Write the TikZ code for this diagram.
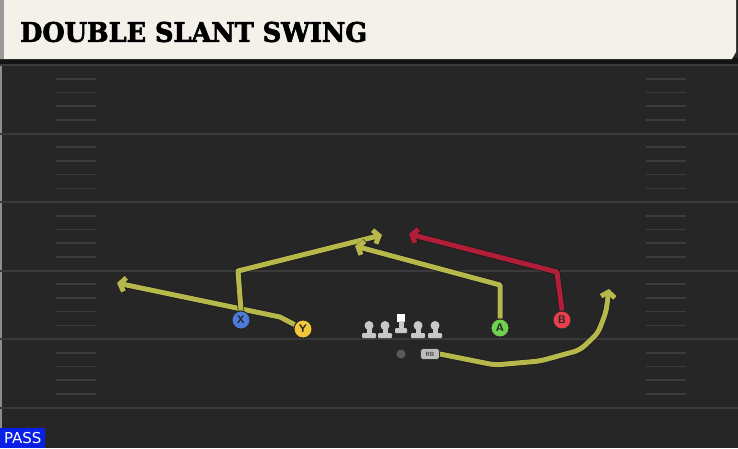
\documentclass[tikz,border=0pt]{standalone}
\usepackage{fontspec}
\setmainfont{DejaVu Sans}
\newfontfamily\titlefont[FakeBold=2.5]{DejaVu Serif Bold}
\usetikzlibrary{arrows.meta}
\definecolor{fieldbg}{HTML}{262626}
\definecolor{yardline}{HTML}{3A3A3A}
\definecolor{hashcol}{HTML}{3C3C3C}
\definecolor{banner}{HTML}{F3F1EA}
\definecolor{routey}{HTML}{B7B84C}
\definecolor{router}{HTML}{B01E3A}
\definecolor{xblue}{HTML}{4C7BDA}
\definecolor{yyellow}{HTML}{F2C83A}
\definecolor{agreen}{HTML}{6ED24E}
\definecolor{bred}{HTML}{E6404C}
\definecolor{linecol}{HTML}{C8C8C8}
\definecolor{passblue}{HTML}{0A1FE6}
\tikzset{
  yardln/.style={draw=yardline, line width=2pt},
  hashln/.style={draw=hashcol, line width=1.6pt},
  player/.style={circle, draw=black!85, line width=0.9pt, minimum size=18pt, inner sep=0pt, font=\sffamily\bfseries\fontsize{11}{11}\selectfont, text=black!85},
  rbbox/.style={fill=linecol!85!gray, rounded corners=3pt, draw=black!80, line width=0.6pt, minimum width=19pt, minimum height=11pt, inner sep=0pt, font=\sffamily\bfseries\fontsize{6}{6}\selectfont, text=black!75},
  route/.style={line width=5pt, line join=round, -{Straight Barb[length=5pt,width=14pt]}, preaction={draw=black!90, line width=6.4pt, -{Straight Barb[length=5pt,width=14pt]}}},
  lineman/.style={fill=linecol},
}
\begin{document}
\begin{tikzpicture}[x=1pt,y=-1pt]
\useasboundingbox (0,0) rectangle (738,448);
\fill[fieldbg] (0,0) rectangle (738,448);
\fill[black!45] (0,63) rectangle (2,448);
% yard lines
\foreach \yy in {65,133.5,202,270.5,339,407.5} {
  \draw[yardln] (0,\yy) -- (738,\yy);
}
% hash marks
\foreach \yy in {65,133.5,202,270.5,339} {
  \foreach \k in {1,2,3,4} {
    \draw[hashln] (56,\yy+\k*13.7) -- (96,\yy+\k*13.7);
    \draw[hashln] (646,\yy+\k*13.7) -- (686,\yy+\k*13.7);
  }
}
% banner
\fill[black!92] (0,58) rectangle (738,63.5);
\fill[banner] (0,0) -- (736,0) -- (736,52) -- (732,59) -- (0,59) -- cycle;
\fill[black!40] (0,0) rectangle (4,59);
\node[anchor=west, inner sep=0pt] (title) at (20,32) {\resizebox{347pt}{20pt}{\titlefont DOUBLE SLANT SWING}};
% PASS label
\node[fill=passblue, anchor=south west, inner sep=0pt, minimum width=45pt, minimum height=20pt, text=white, font=\fontsize{15}{15}\selectfont] (pass) at (0,448) {PASS};
% players
\node[player, fill=xblue] (X) at (241,320) {X};
\node[player, fill=yyellow] (Y) at (303,329) {Y};
\node[player, fill=agreen] (A) at (500,328) {A};
\node[player, fill=bred] (B) at (562,320) {B};
% linemen
\foreach \lx/\nm in {369/lt,385/lg,418/rg,435/rt} {
  \coordinate (\nm) at (\lx,329);
  \fill[lineman] (\lx,325.5) circle (4.5pt);
  \fill[lineman] (\lx-2.5,325) rectangle (\lx+2.5,334);
  \fill[lineman, rounded corners=1pt] (\lx-7,333) rectangle (\lx+7,338);
}
\coordinate (c) at (401,323);
\fill[white] (397,313.5) rectangle (405,321.5);
\fill[lineman] (398.5,321) rectangle (403.5,329);
\fill[lineman, rounded corners=1pt] (395,328) rectangle (407,333);
% QB
\node[circle, fill=gray!70!black, inner sep=0pt, minimum size=9pt] (qb) at (401,354) {};
% RB
\node[rbbox] (rb) at (430,354) {RB};
% route waypoints
\coordinate (yt) at (117,283);
\coordinate (xc) at (238,271);
\coordinate (xt) at (382,235);
\coordinate (ac) at (500,285);
\coordinate (at) at (355,246);
\coordinate (bc) at (557,272);
\coordinate (bt) at (409,234);
\coordinate (rbt) at (609,289);
% routes
\draw[route, draw=routey] (Y) -- (280,317) -- (yt);
\draw[route, draw=routey] (X.north) -- (xc) -- (xt);
\draw[route, draw=routey] (A.north) -- (ac) -- (at);
\draw[route, draw=router] (B.north) -- (bc) -- (bt);
\draw[route, draw=routey, rounded corners=6pt] (rb.east) -- (495,365) -- (540,361) -- (580,350) -- (598,333) -- (606,312) -- (rbt);
% redraw players on top
\node[player, fill=xblue] at (X) {X};
\node[player, fill=yyellow] at (Y) {Y};
\node[player, fill=agreen] at (A) {A};
\node[player, fill=bred] at (B) {B};
\node[rbbox] at (rb) {RB};
\end{tikzpicture}
\end{document}
